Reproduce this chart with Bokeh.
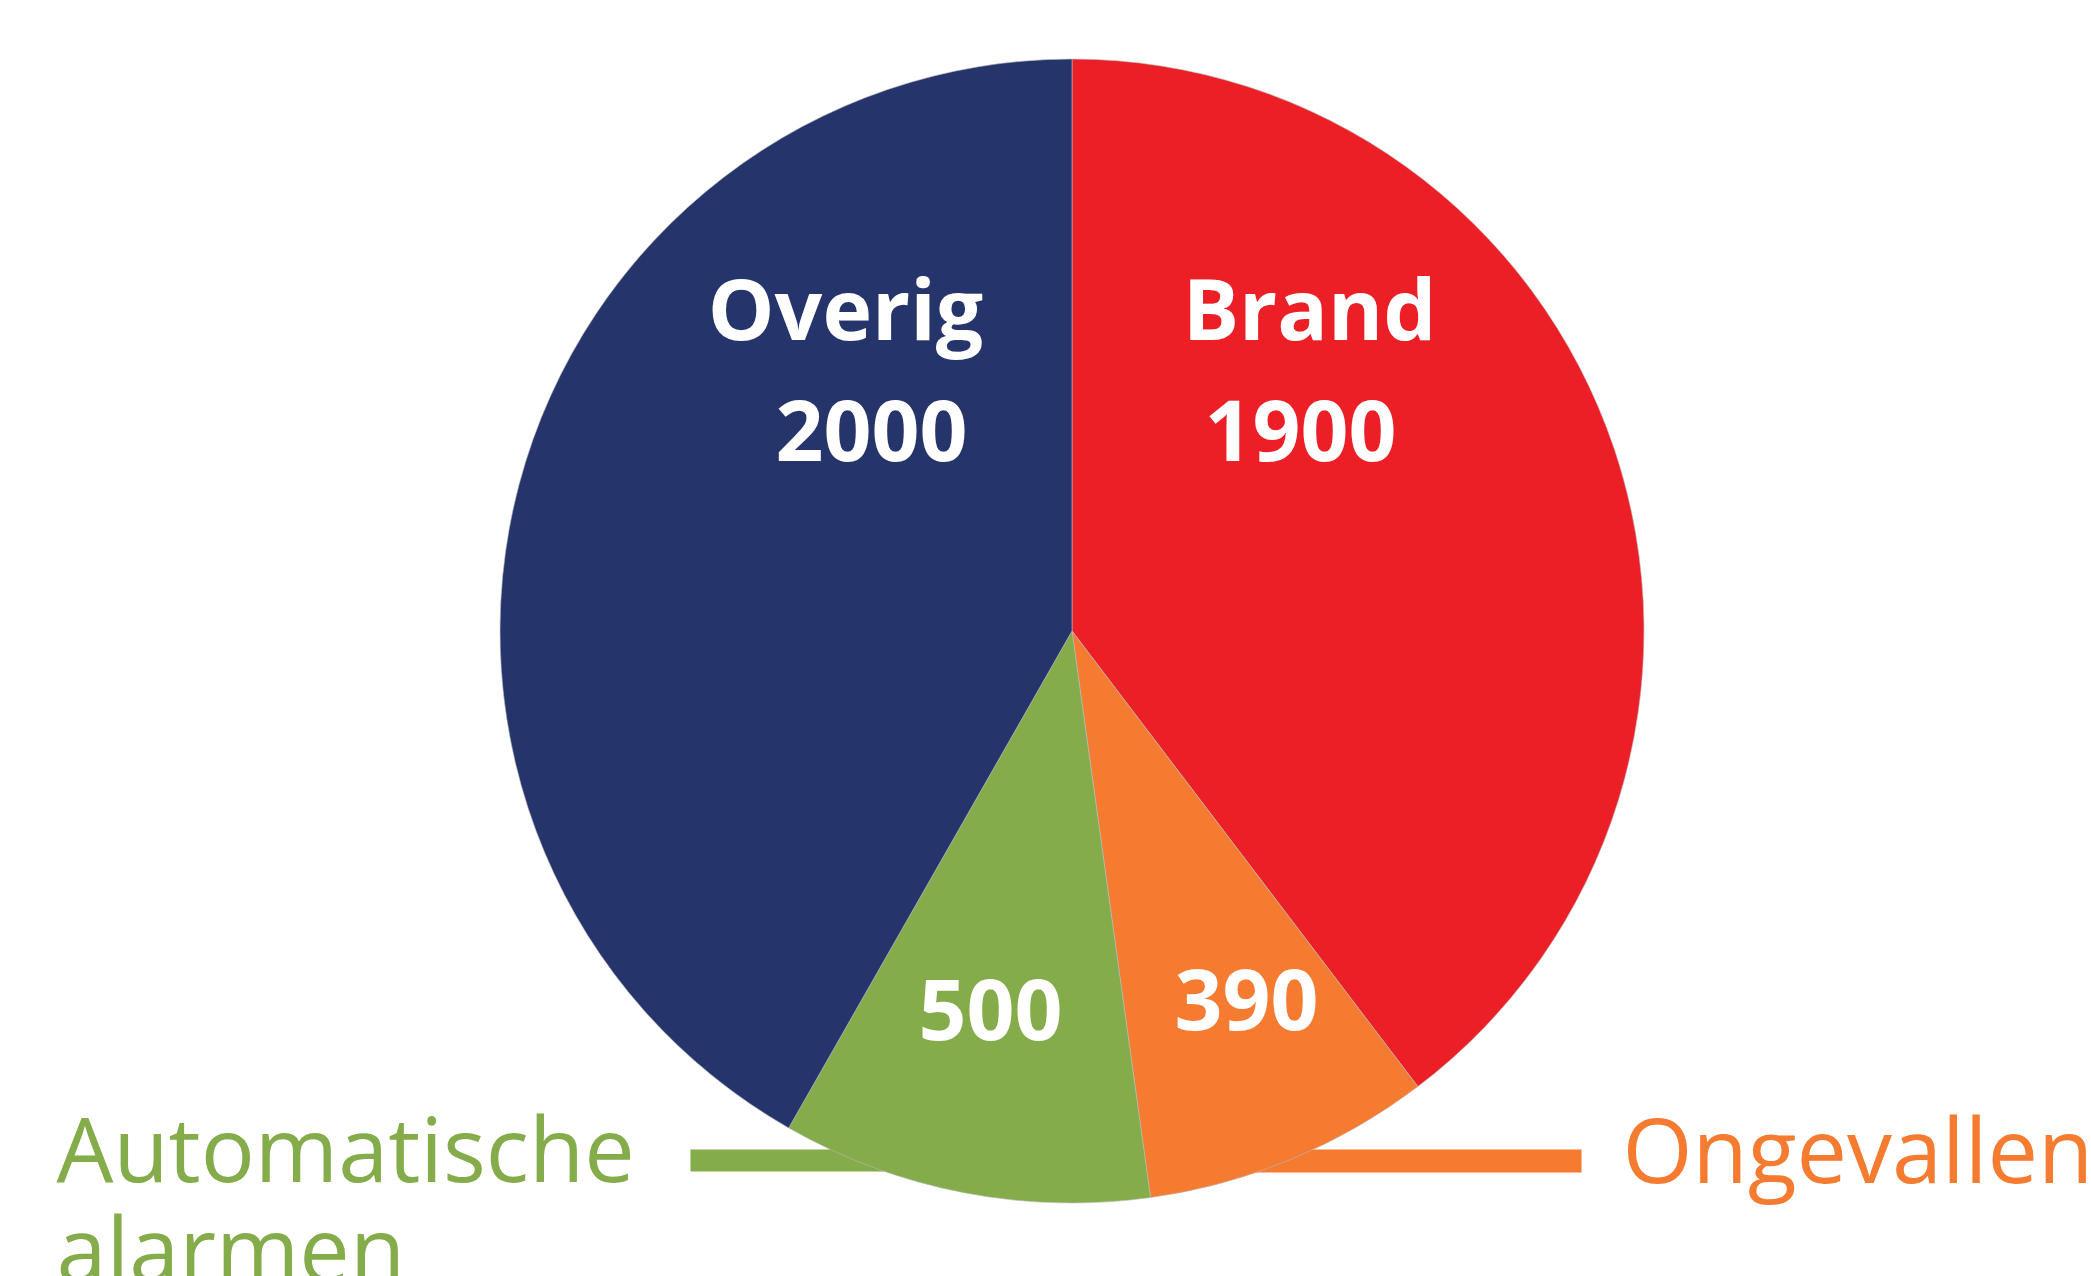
import numpy as np
from bokeh.plotting import figure
from bokeh.models import ColumnDataSource
from bokeh.core.properties import value
from bokeh.embed import file_html
from bokeh.resources import INLINE

# ---- data ----
categories = ["Brand", "Ongevallen", "Automatische alarmen", "Overig"]
values = [1900, 390, 500, 2000]
colors = ["#EC1F27", "#F47B30", "#84AC4A", "#25346B"]

# ---- layout (figure pixel units; ref pixel -> data) ----
W, H = 2091, 1276
def X(xr):
    return xr
def Y(yr, size=0):
    # baseline correction for svg text rendering
    return H - yr + 0.36 * size

cx, cy, R = X(1071.5), Y(630.5), 572

vals = np.array(values, dtype=float)
frac = vals / vals.sum()
cum = np.concatenate([[0], np.cumsum(frac)])
start = np.pi / 2 - 2 * np.pi * cum[:-1]
end = np.pi / 2 - 2 * np.pi * cum[1:]

src = ColumnDataSource(dict(cat=categories, val=values, color=colors,
                            start=start, end=end))

p = figure(width=W, height=H, x_range=(0, W), y_range=(0, H),
           output_backend="svg", toolbar_location=None,
           min_border=0, outline_line_color=None)
p.axis.visible = False
p.grid.visible = False
p.background_fill_color = "white"

FONT = value("Open Sans")

# leader bars (behind the pie)
p.quad(left=[X(690)], right=[X(1000)], bottom=[Y(1171)], top=[Y(1149)],
       fill_color=colors[2], line_color=None)
p.quad(left=[X(1150)], right=[X(1581)], bottom=[Y(1172)], top=[Y(1149)],
       fill_color=colors[1], line_color=None)

p.wedge(x=cx, y=cy, radius=R, start_angle="start", end_angle="end",
        direction="clock", fill_color="color", line_color="#BBBBBB",
        line_width=0.6, source=src)

# inner labels
S1 = 84
inner_txt = ["Overig", str(values[3]), "Brand", str(values[0]),
             str(values[2]), str(values[1])]
inner_x = [X(845), X(871), X(1309), X(1300), X(990), X(1246)]
inner_y = [Y(337, S1), Y(460, S1), Y(337, S1), Y(460, S1), Y(1039, S1), Y(1029, S1)]
p.text(x=inner_x, y=inner_y, text=inner_txt, text_color="white",
       text_font=FONT, text_font_style="bold", text_font_size=f"{S1}px",
       text_align="center", text_baseline="alphabetic")

# outer labels
S2 = 90
p.text(x=[X(56), X(56)], y=[Y(1179, S2), Y(1279, S2)],
       text=["Automatische", "alarmen"], text_color=colors[2],
       text_font=FONT, text_font_size=f"{S2}px",
       text_align="left", text_baseline="alphabetic")
p.text(x=[X(1622)], y=[Y(1180, S2)], text=["Ongevallen"], text_color=colors[1],
       text_font=FONT, text_font_size=f"{S2}px",
       text_align="left", text_baseline="alphabetic")

open("out.html", "w").write(file_html(p, INLINE))
